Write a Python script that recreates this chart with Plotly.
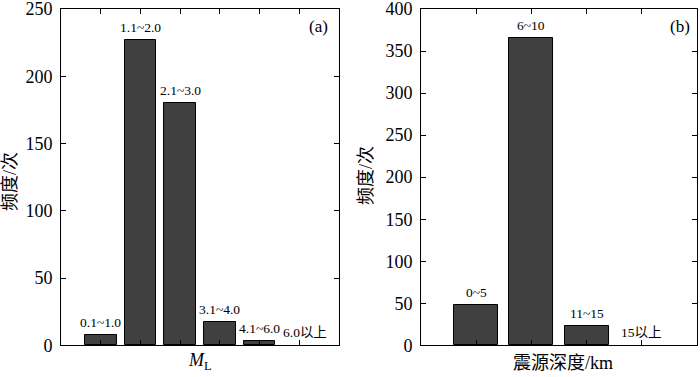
import plotly.graph_objects as go

# Panel (a): magnitude ML
ml_labels = ["0.1~1.0", "1.1~2.0", "2.1~3.0", "3.1~4.0", "4.1~6.0", "6.0以上"]
ml_counts = [8, 227, 180, 17, 3, 0]
# Panel (b): focal depth
depth_labels = ["0~5", "6~10", "11~15", "15以上"]
depth_counts = [48, 365, 23, 0]

y_ticks_a = [0, 50, 100, 150, 200, 250]
y_ticks_b = [0, 50, 100, 150, 200, 250, 300, 350, 400]

FONT = "Times New Roman, Liberation Serif, Noto Sans CJK SC, serif"
BAR_COLOR = "#404040"

W, H = 700, 377

def px(x):
    return x / W

def py(y):
    return 1 - y / H

fig = go.Figure()

xa = list(range(1, len(ml_labels) + 1))
xb = list(range(1, len(depth_labels) + 1))

fig.add_trace(go.Bar(
    x=xa, y=ml_counts, width=0.8,
    marker=dict(color=BAR_COLOR, line=dict(color="black", width=[1 if v > 0 else 0 for v in ml_counts])),
    xaxis="x", yaxis="y", showlegend=False, hoverinfo="skip",
))
fig.add_trace(go.Bar(
    x=xb, y=depth_counts, width=0.8,
    marker=dict(color=BAR_COLOR, line=dict(color="black", width=[1 if v > 0 else 0 for v in depth_counts])),
    xaxis="x2", yaxis="y2", showlegend=False, hoverinfo="skip",
))

# bar labels as annotations anchored on each bar top
for xs, ys, labels, xr, yr in [(xa, ml_counts, ml_labels, "x", "y"),
                               (xb, depth_counts, depth_labels, "x2", "y2")]:
    for i, (x, y, t) in enumerate(zip(xs, ys, labels)):
        # the last (zero) label of panel (a) is nudged right so it clears its neighbour
        shift = 6 if (xr == "x" and i == len(xs) - 1) else 0
        fig.add_annotation(x=x, y=y, xref=xr, yref=yr, text=t, showarrow=False,
                           xanchor="center", yanchor="bottom", yshift=3, xshift=shift,
                           font=dict(family=FONT, size=13.5, color="black"))

y_dom = [py(345.3), py(9)]
axis_common = dict(showline=True, linecolor="black", linewidth=1, mirror="ticks", ticks="inside",
                   ticklen=5, tickcolor="black", showgrid=False, zeroline=False,
                   ticklabeloverflow="allow", automargin=False,
                   tickfont=dict(family=FONT, size=18, color="black"))

fig.update_layout(
    width=W, height=H, margin=dict(l=0, r=0, t=0, b=0),
    paper_bgcolor="white", plot_bgcolor="white", bargap=0,
    font=dict(family=FONT, color="black"),
    xaxis=dict(domain=[px(61), px(339)], range=[0, len(ml_labels) + 1], tickvals=xa,
               showticklabels=False, anchor="y", **axis_common),
    yaxis=dict(domain=y_dom, range=[0, 250], tickvals=y_ticks_a, anchor="x",
               ticklabelstandoff=4, **axis_common),
    xaxis2=dict(domain=[px(421), px(697)], range=[0, len(depth_labels) + 1], tickvals=xb,
                showticklabels=False, anchor="y2", **axis_common),
    yaxis2=dict(domain=y_dom, range=[0, 400], tickvals=y_ticks_b, anchor="x2",
                ticklabelstandoff=4, **axis_common),
)

anns = [
    dict(text="(a)", x=px(318), y=py(27), font=dict(size=17)),
    dict(text="(b)", x=px(680), y=py(27), font=dict(size=17)),
    dict(text="频度/次", x=px(10), y=py(182), textangle=-90, font=dict(size=18)),
    dict(text="频度/次", x=px(366), y=py(176), textangle=-90, font=dict(size=18)),
    dict(text="<i>M</i><sub>L</sub>", x=px(200), y=py(361), font=dict(size=18)),
    dict(text="震源深度/km", x=px(563), y=py(363), font=dict(size=18)),
]
for a in anns:
    a.update(xref="paper", yref="paper", showarrow=False, xanchor="center", yanchor="middle")
    a["font"] = dict(family=FONT, color="black", size=a["font"]["size"])
    fig.add_annotation(**a)

fig.write_html(
    "out.html",
    config={"displayModeBar": False},
    post_script="document.body.style.margin='0';document.body.style.overflow='hidden';",
)
